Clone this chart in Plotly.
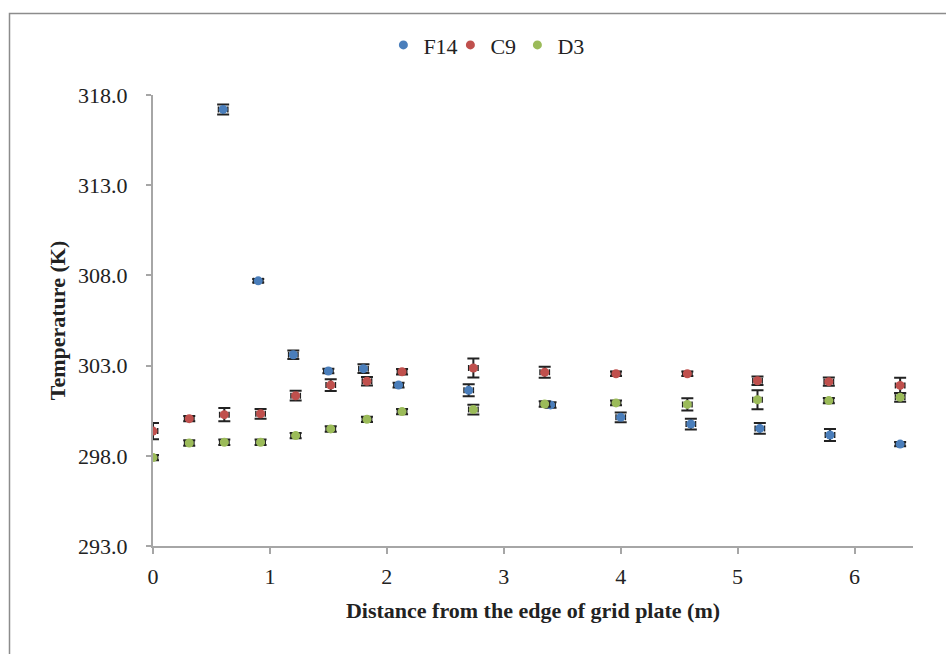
import plotly.graph_objects as go

# ---- data ----
f14_x = [0.6, 0.9, 1.2, 1.5, 1.8, 2.1, 2.7, 3.4, 4.0, 4.6, 5.19, 5.79, 6.39]
f14_y = [317.2, 307.7, 303.6, 302.7, 302.83, 301.92, 301.63, 300.82, 300.13, 299.76, 299.52, 299.15, 298.65]
f14_err = [0.28, 0.1, 0.24, 0.12, 0.24, 0.13, 0.33, 0.15, 0.27, 0.3, 0.3, 0.33, 0.12]

c9_x = [0.0, 0.31, 0.61, 0.92, 1.22, 1.52, 1.83, 2.13, 2.74, 3.35, 3.96, 4.57, 5.17, 5.78, 6.39]
c9_y = [299.37, 300.06, 300.28, 300.33, 301.33, 301.92, 302.13, 302.66, 302.87, 302.63, 302.55, 302.55, 302.16, 302.11, 301.9]
c9_err = [0.45, 0.15, 0.37, 0.27, 0.27, 0.33, 0.24, 0.15, 0.53, 0.3, 0.12, 0.12, 0.24, 0.23, 0.43]

d3_x = [0.0, 0.31, 0.61, 0.92, 1.22, 1.52, 1.83, 2.13, 2.74, 3.35, 3.96, 4.57, 5.17, 5.78, 6.39]
d3_y = [297.9, 298.71, 298.75, 298.75, 299.12, 299.49, 300.02, 300.45, 300.56, 300.87, 300.93, 300.85, 301.11, 301.06, 301.24]
d3_err = [0.15, 0.15, 0.15, 0.15, 0.15, 0.15, 0.15, 0.15, 0.27, 0.15, 0.13, 0.34, 0.53, 0.15, 0.24]

x_err = 0.04
y_ticks = [293, 298, 303, 308, 313, 318]
x_ticks = [0, 1, 2, 3, 4, 5, 6]

FONT = "Liberation Serif, Times New Roman, serif"
ERR = "#222222"

series = [
    ("F14", f14_x, f14_y, f14_err, "#4A7EBB"),
    ("C9", c9_x, c9_y, c9_err, "#C0504D"),
    ("D3", d3_x, d3_y, d3_err, "#9BBB59"),
]

fig = go.Figure()
for name, xs, ys, es, col in series:
    fig.add_trace(go.Scatter(
        x=xs, y=ys, mode="markers", name=name,
        marker=dict(color=col, size=9),
        error_y=dict(type="data", array=es, visible=True, color=ERR, thickness=2, width=6),
        error_x=dict(type="constant", value=x_err, visible=True, color=ERR, thickness=1.5, width=3),
    ))

fig.update_layout(
    width=946, height=654,
    margin=dict(l=153, r=33, t=95, b=108),
    paper_bgcolor="white", plot_bgcolor="white",
    font=dict(family=FONT, size=22, color="#222222"),
    showlegend=True,
    legend=dict(orientation="h", xref="container", yref="container",
                x=0.5115, y=0.931, xanchor="center", yanchor="middle",
                font=dict(size=22), itemwidth=30, entrywidth=22, entrywidthmode="pixels",
                tracegroupgap=0),
    xaxis=dict(range=[0, 6.5], tickvals=x_ticks, ticktext=[str(v) for v in x_ticks],
               showgrid=False, zeroline=False, showline=True, linecolor="#A6A6A6", linewidth=2,
               ticks="outside", ticklen=6, tickwidth=2, tickcolor="#A6A6A6",
               ticklabelstandoff=4,
               title=dict(text="<b>Distance from the edge of grid plate (m)</b>", standoff=14,
                          font=dict(size=22))),
    yaxis=dict(range=[293, 318], tickvals=y_ticks, ticktext=[f"{v:.1f}" for v in y_ticks],
               showgrid=False, zeroline=False, showline=True, linecolor="#A6A6A6", linewidth=2,
               ticks="outside", ticklen=5, tickwidth=2, tickcolor="#A6A6A6",
               ticklabelstandoff=14,
               title=dict(text="<b>Temperature (K)</b>", standoff=6, font=dict(size=22))),
    shapes=[dict(type="rect", xref="paper", yref="paper",
                 x0=(9.5 - 153) / 760, x1=1.2, y0=-0.5, y1=1 + (95 - 13.5) / 451,
                 line=dict(color="#8C8C8C", width=1.5), fillcolor="rgba(0,0,0,0)", layer="below")],
)

fig.write_html("out.html")
